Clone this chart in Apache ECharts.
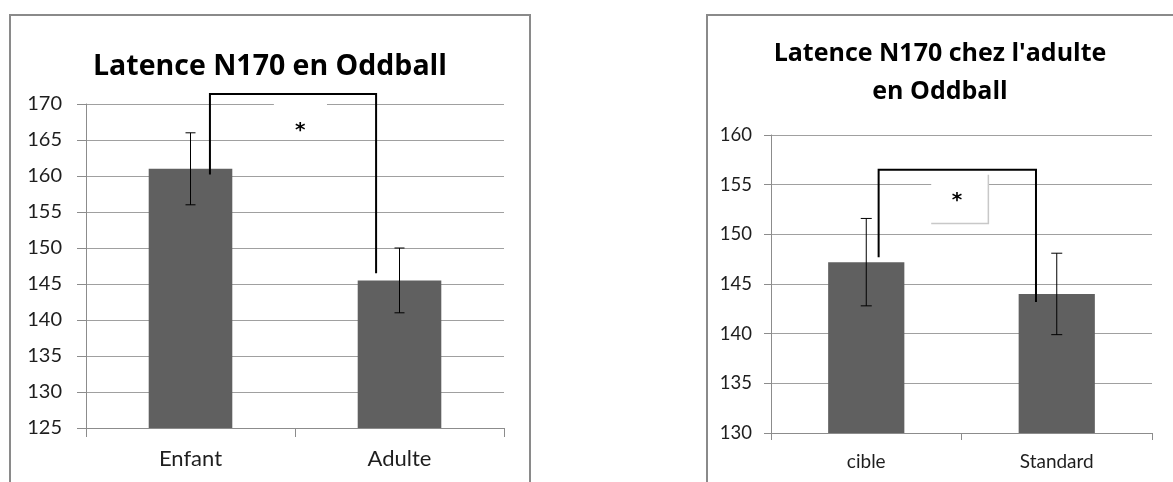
<!DOCTYPE html>
<html>
<head>
<meta charset="utf-8">
<script src="https://cdn.jsdelivr.net/npm/echarts@6/dist/echarts.min.js"></script>
<style>
html,body{margin:0;padding:0;background:#fff;}
#c{width:1173px;height:482px;}
</style>
</head>
<body>
<div id="c"></div>
<script>
// ---- data ----
const titleLeft = 'Latence N170 en Oddball';
const titleRight = ["Latence N170 chez l'adulte", 'en Oddball'];
const catsLeft = ['Enfant', 'Adulte'];
const valsLeft = [161.0, 145.5];
const errLeft = [5.0, 4.5];
const catsRight = ['cible', 'Standard'];
const valsRight = [147.2, 144.0];
const errRight = [4.4, 4.1];
// significance brackets: [top value, left leg bottom, right leg bottom]
const bracketLeft = [171.4, 160.2, 146.5];
const bracketRight = [156.5, 147.7, 143.2];
// star label value height, box value range [bottom, top]
const starLeft = 166.9, boxLeft = [165.1, 170.8];
const starRight = 153.8, boxRight = [151.1, 156.0];
const yTicksLeft = {min: 125, max: 170, step: 5};
const yTicksRight = {min: 130, max: 160, step: 5};

const FONT = 'Lato, "Open Sans", sans-serif';
const TFONT = '"Open Sans", Lato, sans-serif';
const GRID_C = '#a0a0a0';
const AXIS_C = '#8c8c8c';
const LABEL_C = '#1e1e1e';
const BAR_C = '#606060';

function errData(vals, errs) {
  return vals.map((v, i) => [i, v - errs[i], v + errs[i]]);
}

function errSeries(xi, vals, errs, cap) {
  return {
    type: 'custom', xAxisIndex: xi, yAxisIndex: xi, clip: false, z: 5,
    data: errData(vals, errs),
    renderItem: function (params, api) {
      const lo = api.coord([api.value(0), api.value(1)]);
      const hi = api.coord([api.value(0), api.value(2)]);
      const st = {stroke: '#000', lineWidth: 1};
      return {type: 'group', children: [
        {type: 'line', shape: {x1: lo[0], y1: lo[1], x2: hi[0], y2: hi[1]}, style: st},
        {type: 'line', shape: {x1: lo[0] - cap, y1: lo[1], x2: lo[0] + cap, y2: lo[1]}, style: st},
        {type: 'line', shape: {x1: hi[0] - cap, y1: hi[1], x2: hi[0] + cap, y2: hi[1]}, style: st}
      ]};
    }
  };
}

function bracketSeries(xi, br, star, box, opts) {
  return {
    type: 'custom', xAxisIndex: xi, yAxisIndex: xi, clip: false, z: 6,
    data: [[0, br[0], br[1], br[2], star, box[0], box[1]]],
    renderItem: function (params, api) {
      const band = api.size([1, 0])[0];
      const c0 = api.coord([0, api.value(1)]);
      const c1 = api.coord([1, api.value(1)]);
      const xl = c0[0] + opts.leftOff * band;
      const xr = c1[0] + opts.rightOff * band;
      const yt = c0[1];
      const yl = api.coord([0, api.value(2)])[1];
      const yr = api.coord([0, api.value(3)])[1];
      const ys = api.coord([0, api.value(4)])[1];
      const yb0 = api.coord([0, api.value(5)])[1];
      const yb1 = api.coord([0, api.value(6)])[1];
      const bx = c0[0] + opts.boxCenter * band - opts.boxW * band / 2;
      const bw = opts.boxW * band;
      const children = [
        {type: 'rect', shape: {x: bx, y: yb1, width: bw, height: yb0 - yb1},
         style: {fill: '#fff', stroke: null}},
      ];
      if (opts.boxEdge) {
        children.push({type: 'polyline', shape: {points: [[bx + bw, yb1], [bx + bw, yb0], [bx, yb0]]},
          style: {fill: null, stroke: '#c8c8c8', lineWidth: 1.5}});
      }
      children.push(
        {type: 'polyline', shape: {points: [[xl, yl], [xl, yt], [xr, yt], [xr, yr]]},
         style: {fill: null, stroke: '#000', lineWidth: 2}},
        {type: 'text', style: {x: c0[0] + opts.starX * band, y: ys + opts.starDy, text: '*',
          font: opts.starFont, fill: '#000', align: 'center', verticalAlign: 'middle'}}
      );
      return {type: 'group', children: children};
    }
  };
}

function xAxis(gi, cats, fs, tickLen, margin) {
  return {
    type: 'category', gridIndex: gi, data: cats,
    axisLine: {show: true, lineStyle: {color: AXIS_C, width: 1}},
    axisTick: {show: true, length: tickLen, lineStyle: {color: AXIS_C}},
    axisLabel: {color: LABEL_C, fontSize: fs, fontFamily: FONT, margin: margin},
    splitLine: {show: false}
  };
}

function yAxis(gi, t, fs, tickLen, margin) {
  return {
    type: 'value', gridIndex: gi, min: t.min, max: t.max, interval: t.step,
    axisLine: {show: true, lineStyle: {color: AXIS_C, width: 1}},
    axisTick: {show: true, length: tickLen, lineStyle: {color: AXIS_C}},
    axisLabel: {color: LABEL_C, fontSize: fs, fontFamily: FONT, margin: margin},
    splitLine: {show: true, lineStyle: {color: GRID_C, width: 1}}
  };
}

const chart = echarts.init(document.getElementById('c'), null, {renderer: 'canvas'});
chart.setOption({
  animation: false,
  backgroundColor: '#fff',
  grid: [
    {left: 86, top: 104, width: 418, height: 324},
    {left: 771, top: 135, width: 381, height: 298}
  ],
  xAxis: [xAxis(0, catsLeft, 22, 9, 20), xAxis(1, catsRight, 19, 7, 19)],
  yAxis: [yAxis(0, yTicksLeft, 20, 9, 24), yAxis(1, yTicksRight, 18.5, 7, 19)],
  graphic: [
    {type: 'rect', shape: {x: 10, y: 15, width: 520, height: 500},
     style: {fill: null, stroke: '#8a8a8a', lineWidth: 2}, z: -10},
    {type: 'rect', shape: {x: 707, y: 15, width: 520, height: 500},
     style: {fill: null, stroke: '#8a8a8a', lineWidth: 2}, z: -10},
    {type: 'text', x: 270, y: 67, style: {text: titleLeft, font: 'bold 28.5px ' + TFONT,
     fill: '#000', align: 'center', verticalAlign: 'middle'}},
    {type: 'text', x: 940, y: 54, style: {text: titleRight[0], font: 'bold 25px ' + TFONT,
     fill: '#000', align: 'center', verticalAlign: 'middle'}},
    {type: 'text', x: 940, y: 92, style: {text: titleRight[1], font: 'bold 25px ' + TFONT,
     fill: '#000', align: 'center', verticalAlign: 'middle'}}
  ],
  series: [
    {type: 'bar', xAxisIndex: 0, yAxisIndex: 0, data: valsLeft, barWidth: '40%',
     itemStyle: {color: BAR_C}, z: 2},
    {type: 'bar', xAxisIndex: 1, yAxisIndex: 1, data: valsRight, barWidth: '40%',
     itemStyle: {color: BAR_C}, z: 2},
    errSeries(0, valsLeft, errLeft, 5),
    errSeries(1, valsRight, errRight, 5.5),
    bracketSeries(0, bracketLeft, starLeft, boxLeft,
      {leftOff: 0.093, rightOff: -0.112, boxCenter: 0.526, boxW: 0.254, starX: 0.525,
       starFont: 'bold 20px "DejaVu Sans", sans-serif', starDy: 4, boxEdge: false}),
    bracketSeries(1, bracketRight, starRight, boxRight,
      {leftOff: 0.065, rightOff: -0.109, boxCenter: 0.491, boxW: 0.30, starX: 0.476,
       starFont: 'bold 20px "DejaVu Sans", sans-serif', starDy: 4, boxEdge: true})
  ]
});
</script>
</body>
</html>
